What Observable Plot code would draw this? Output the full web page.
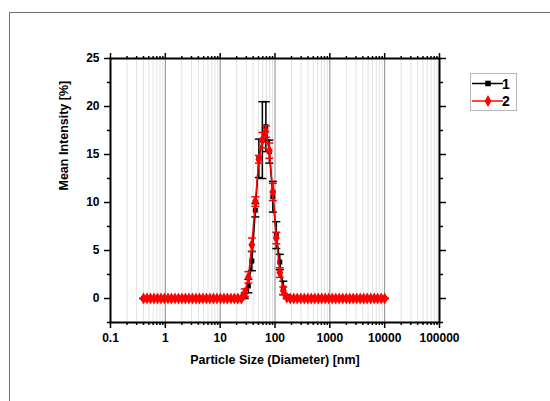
<!DOCTYPE html>
<html>
<head>
<meta charset="utf-8">
<script src="https://cdn.jsdelivr.net/npm/d3@7"></script>
<script src="https://cdn.jsdelivr.net/npm/@observablehq/plot@0.6"></script>
<style>
  html, body { margin: 0; padding: 0; background: #fff; overflow: hidden; }
  #wrap { position: relative; width: 550px; height: 401px; }
  #border { position: absolute; left: 9px; top: 12px; width: 600px; height: 500px; border: 1px solid #6e6e6e; pointer-events: none; }
  #chart { position: absolute; left: 0; top: 0; }
</style>
</head>
<body>
<div id="wrap"><div id="chart"></div><div id="border"></div></div>
<script>
// Size bins (nm)
const sizes = [0.4, 0.4632, 0.5365, 0.6213, 0.7195, 0.8332, 0.9649, 1.117, 1.294, 1.499,
  1.736, 2.010, 2.328, 2.696, 3.122, 3.615, 4.187, 4.849, 5.615, 6.503,
  7.531, 8.721, 10.10, 11.70, 13.54, 15.69, 18.17, 21.04, 24.36, 28.21,
  32.67, 37.84, 43.82, 50.75, 58.77, 68.06, 78.82, 91.28, 105.7, 122.4,
  141.8, 164.2, 190.1, 220.2, 255.0, 295.3, 342.0, 396.1, 458.7, 531.2,
  615.1, 712.4, 825.0, 955.4, 1106, 1281, 1484, 1718, 1990, 2305,
  2669, 3091, 3580, 4145, 4801, 5560, 6439, 7456, 8635, 10000];
// Series 1 (black)
const mean1 = [0, 0, 0, 0, 0, 0, 0, 0, 0, 0,
  0, 0, 0, 0, 0, 0, 0, 0, 0, 0,
  0, 0, 0, 0, 0, 0, 0, 0, 0, 0.3,
  1.3, 3.9, 9.2, 14.6, 16.5, 17.9, 15.3, 10.6, 6.6, 3.8,
  1.1, 0.2, 0, 0, 0, 0, 0, 0, 0, 0,
  0, 0, 0, 0, 0, 0, 0, 0, 0, 0,
  0, 0, 0, 0, 0, 0, 0, 0, 0, 0];
const sd1 = [0, 0, 0, 0, 0, 0, 0, 0, 0, 0,
  0, 0, 0, 0, 0, 0, 0, 0, 0, 0,
  0, 0, 0, 0, 0, 0, 0, 0, 0, 0.3,
  0.7, 1.0, 0.7, 2.0, 4.0, 2.6, 1.2, 1.6, 1.4, 0.8,
  0.7, 0.2, 0, 0, 0, 0, 0, 0, 0, 0,
  0, 0, 0, 0, 0, 0, 0, 0, 0, 0,
  0, 0, 0, 0, 0, 0, 0, 0, 0, 0];
// Series 2 (red)
const mean2 = [0, 0, 0, 0, 0, 0, 0, 0, 0, 0,
  0, 0, 0, 0, 0, 0, 0, 0, 0, 0,
  0, 0, 0, 0, 0, 0, 0, 0, 0, 0.6,
  2.2, 5.6, 10.1, 14.5, 16.5, 17.4, 15.4, 11.1, 6.3, 2.7,
  0.8, 0.1, 0, 0, 0, 0, 0, 0, 0, 0,
  0, 0, 0, 0, 0, 0, 0, 0, 0, 0,
  0, 0, 0, 0, 0, 0, 0, 0, 0, 0];
const sd2 = [0, 0, 0, 0, 0, 0, 0, 0, 0, 0,
  0, 0, 0, 0, 0, 0, 0, 0, 0, 0,
  0, 0, 0, 0, 0, 0, 0, 0, 0, 0.4,
  0.6, 0.7, 0.5, 0.4, 0.8, 0.6, 0.8, 0.9, 0.6, 0.5,
  0.4, 0.1, 0, 0, 0, 0, 0, 0, 0, 0,
  0, 0, 0, 0, 0, 0, 0, 0, 0, 0,
  0, 0, 0, 0, 0, 0, 0, 0, 0, 0];

const seriesNames = ["1", "2"];
const xMajor = [0.1, 1, 10, 100, 1000, 10000, 100000];
const xGridMajor = [1, 10, 100, 1000, 10000];
const yMajor = [0, 5, 10, 15, 20, 25];
const yMinor = [-2.5, 2.5, 7.5, 12.5, 17.5, 22.5];

const xMinor = xMajor.slice(0, -1).flatMap(d => [2,3,4,5,6,7,8,9].map(k => k * d));

const data1 = sizes.map((s, i) => ({x: s, y: mean1[i], lo: mean1[i] - sd1[i], hi: mean1[i] + sd1[i]}));
const data2 = sizes.map((s, i) => ({x: s, y: mean2[i], lo: mean2[i] - sd2[i], hi: mean2[i] + sd2[i]}));

const cap = { draw(ctx, size) { const h = Math.sqrt(size / Math.PI); ctx.moveTo(-h, 0); ctx.lineTo(h, 0); } };

function seriesMarks(data, color, symbol, r) {
  return [
    Plot.ruleX(data, {x: "x", y1: "lo", y2: "hi", stroke: color, strokeWidth: 1.5}),
    Plot.dot(data, {x: "x", y: "hi", symbol: cap, r: 4, fill: "none", stroke: color, strokeWidth: 1.5}),
    Plot.dot(data, {x: "x", y: "lo", symbol: cap, r: 4, fill: "none", stroke: color, strokeWidth: 1.5}),
    Plot.line(data, {x: "x", y: "y", stroke: color, strokeWidth: 1.5}),
    Plot.dot(data, {x: "x", y: "y", symbol, r, fill: color, stroke: "none"})
  ];
}

const blank = () => "";

const svg = Plot.plot({
  width: 550,
  height: 401,
  marginLeft: 110,
  marginRight: 111,
  marginTop: 58,
  marginBottom: 79,
  style: {fontFamily: "'Liberation Sans', Arial, sans-serif", fontSize: "12px", fontWeight: "bold", color: "black", background: "transparent"},
  x: {type: "log", domain: [0.1, 100000]},
  y: {domain: [-2.5, 25]},
  marks: [
    Plot.ruleX(xMinor, {stroke: "#e2e2e2", strokeWidth: 1}),
    Plot.ruleX(xGridMajor, {stroke: "#8a8a8a", strokeWidth: 1}),
    ...seriesMarks(data1, "black", "square", 2.8),
    ...seriesMarks(data2, "red", "diamond", 3.6),
    Plot.frame({stroke: "black", strokeWidth: 2}),
    Plot.axisX(xMajor, {anchor: "bottom", tickSize: 6, tickPadding: 5, strokeWidth: 1.5, tickFormat: d => String(d), label: null}),
    Plot.axisX(xMinor, {anchor: "bottom", tickSize: 3, strokeWidth: 1.5, tickFormat: blank, label: null}),
    Plot.axisX(xMajor, {anchor: "top", tickSize: 6, strokeWidth: 1.5, tickFormat: blank, label: null}),
    Plot.axisX(xMinor, {anchor: "top", tickSize: 3, strokeWidth: 1.5, tickFormat: blank, label: null}),
    Plot.axisY(yMajor, {anchor: "left", tickSize: 6, tickPadding: 5, strokeWidth: 1.5, tickFormat: d => String(d), label: null}),
    Plot.axisY(yMinor, {anchor: "left", tickSize: 3, strokeWidth: 1.5, tickFormat: blank, label: null}),
    Plot.axisY(yMajor, {anchor: "right", tickSize: 6, strokeWidth: 1.5, tickFormat: blank, label: null}),
    Plot.axisY(yMinor, {anchor: "right", tickSize: 3, strokeWidth: 1.5, tickFormat: blank, label: null}),
    Plot.text(["Particle Size (Diameter) [nm]"], {frameAnchor: "bottom", dy: 41, fontSize: 12.5, fontWeight: "bold"}),
    Plot.text(["Mean Intensity [%]"], {frameAnchor: "left", rotate: -90, dx: -47, fontSize: 12.5, fontWeight: "bold"})
  ]
});

// Legend
const g = d3.select(svg).append("g");
g.append("rect").attr("x", 470.5).attr("y", 73.5).attr("width", 46).attr("height", 37)
  .attr("fill", "white").attr("stroke", "#b5b5b5").attr("stroke-width", 1);
const legendItems = [
  {name: seriesNames[0], color: "black", sym: d3.symbolSquare, size: 31, y: 83.5},
  {name: seriesNames[1], color: "red", sym: d3.symbolDiamond, size: 40, y: 101}
];
for (const it of legendItems) {
  g.append("line").attr("x1", 472).attr("x2", 503).attr("y1", it.y).attr("y2", it.y)
    .attr("stroke", it.color).attr("stroke-width", 1.5);
  g.append("path").attr("d", d3.symbol(it.sym, it.size)()).attr("transform", `translate(488,${it.y})`).attr("fill", it.color);
  g.append("text").attr("x", 506).attr("y", it.y).attr("dy", "0.36em").attr("font-size", 14)
    .attr("font-weight", "bold").attr("fill", "black").text(it.name);
}

document.getElementById("chart").appendChild(svg);
</script>
</body>
</html>
